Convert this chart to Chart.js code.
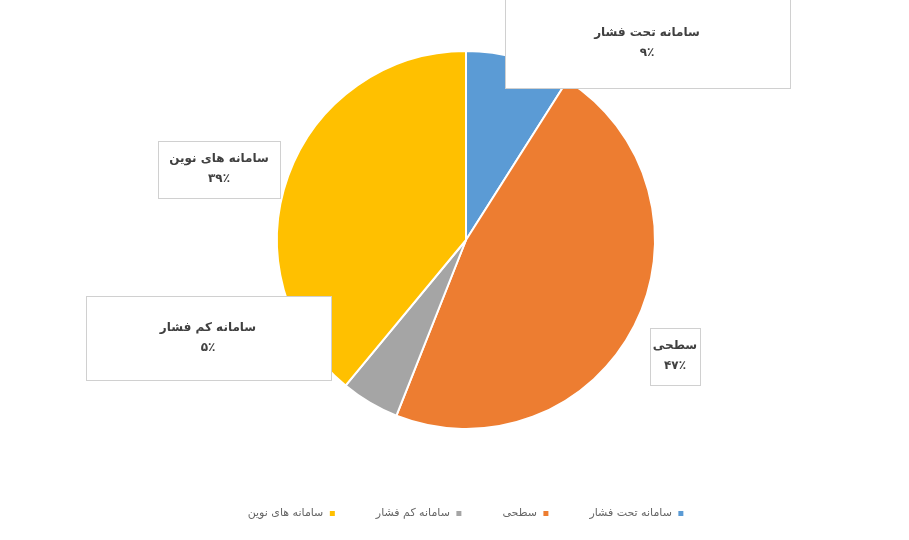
<!DOCTYPE html>
<html>
<head>
<meta charset="utf-8">
<script src="https://cdn.jsdelivr.net/npm/chart.js@4/dist/chart.umd.min.js"></script>
<style>
  html, body { margin: 0; padding: 0; background: #fff; }
</style>
</head>
<body>
<canvas id="myChart" width="909" height="540"></canvas>
<script>
// data (percent)
var categories = ['سامانه تحت فشار', 'سطحی', 'سامانه کم فشار', 'سامانه های نوین'];
var shares = [9, 47, 5, 39];
var sliceColors = ['#5B9BD5', '#ED7D31', '#A5A5A5', '#FFC000'];

// persian digits for the labels
function faNum(n) {
  var d = '۰۱۲۳۴۵۶۷۸۹';
  return String(n).replace(/[0-9]/g, function (c) { return d[+c]; });
}

// label boxes, placed relative to the pie centre (dx, dy, w, h)
var boxes = [
  { dx: 181, dy: -197, w: 285, h: 90 },
  { dx: 209, dy: 116, w: 50, h: 57 },
  { dx: -258, dy: 98, w: 245, h: 84 },
  { dx: -247, dy: -71, w: 122, h: 57 }
];

var labelBoxes = {
  id: 'labelBoxes',
  afterDatasetsDraw: function (chart) {
    var ctx = chart.ctx;
    var meta = chart.getDatasetMeta(0);
    var total = shares.reduce(function (a, b) { return a + b; }, 0);
    ctx.save();
    meta.data.forEach(function (arc, i) {
      var b = boxes[i];
      var cx = arc.x + b.dx, cy = arc.y + b.dy;
      var x0 = Math.round(cx - b.w / 2) + 0.5, y0 = Math.round(cy - b.h / 2) + 0.5;
      ctx.fillStyle = '#ffffff';
      ctx.fillRect(x0, y0, b.w, b.h);
      ctx.strokeStyle = '#d0d0d0';
      ctx.lineWidth = 1;
      ctx.strokeRect(x0, y0, b.w, b.h);
      ctx.fillStyle = '#404040';
      ctx.textAlign = 'center';
      ctx.textBaseline = 'middle';
      ctx.direction = 'rtl';
      ctx.font = 'bold 12px "DejaVu Sans"';
      ctx.fillText(categories[i], cx, cy - 10);
      ctx.fillText(faNum(Math.round(shares[i] / total * 100)) + '٪', cx, cy + 10);
    });
    ctx.restore();
  }
};

var ctx = document.getElementById('myChart').getContext('2d');

var myChart = new Chart(ctx, {
  type: 'pie',
  data: {
    labels: categories,
    datasets: [{
      data: shares,
      backgroundColor: sliceColors,
      borderColor: '#ffffff',
      borderWidth: 2
    }]
  },
  options: {
    responsive: false,
    animation: false,
    radius: 189,
    layout: { padding: { left: 23, right: 0, top: 12, bottom: 11 } },
    plugins: {
      tooltip: { enabled: false },
      legend: {
        position: 'bottom',
        rtl: true,
        labels: {
          boxWidth: 7,
          boxHeight: 7,
          padding: 40,
          color: '#666666',
          font: { family: 'DejaVu Sans', size: 11 }
        }
      }
    }
  },
  plugins: [labelBoxes]
});
</script>
</body>
</html>
